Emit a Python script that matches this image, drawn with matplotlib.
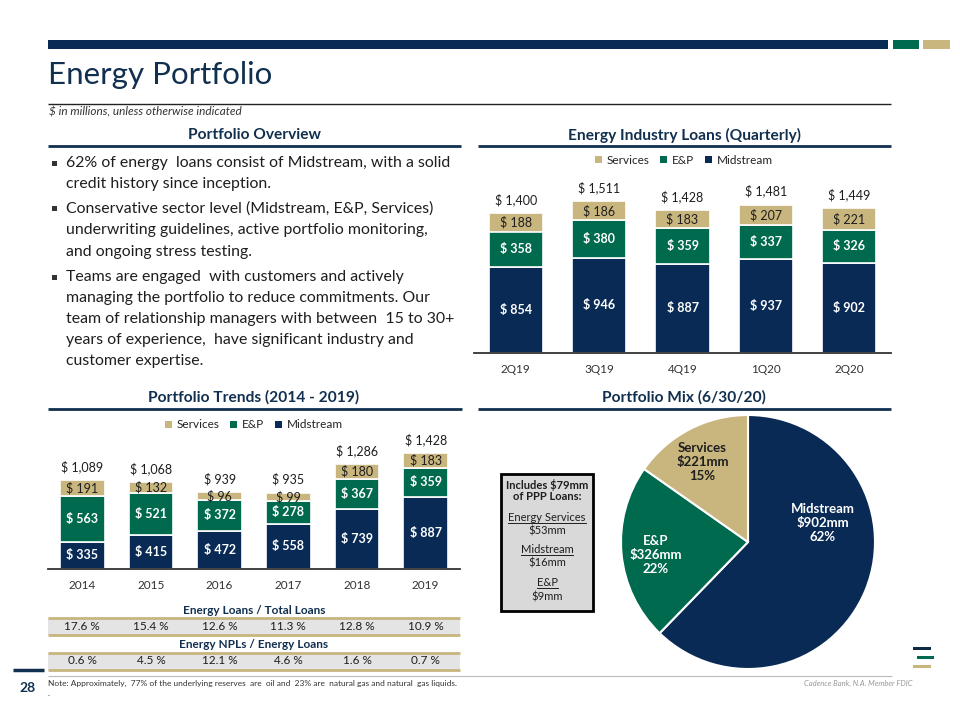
import matplotlib
matplotlib.use("Agg")
import matplotlib.pyplot as plt
from matplotlib.patches import Rectangle, Patch
from matplotlib.lines import Line2D
import numpy as np

plt.rcParams['font.family'] = ['Lato', 'DejaVu Sans']

# ---------------- data ----------------
quarters = ['2Q19', '3Q19', '4Q19', '1Q20', '2Q20']
q_midstream = [854, 946, 887, 937, 902]
q_ep = [358, 380, 359, 337, 326]
q_services = [188, 186, 183, 207, 221]
q_totals = [1400, 1511, 1428, 1481, 1449]

years = ['2014', '2015', '2016', '2017', '2018', '2019']
y_midstream = [335, 415, 472, 558, 739, 887]
y_ep = [563, 521, 372, 278, 367, 359]
y_services = [191, 132, 96, 99, 180, 183]
y_totals = [1089, 1068, 939, 935, 1286, 1428]

loans_to_total = [17.6, 15.4, 12.6, 11.3, 12.8, 10.9]
npl_to_energy = [0.6, 4.5, 12.1, 4.6, 1.6, 0.7]

mix_labels = ['Midstream', 'E&P', 'Services']
mix_values = [902, 326, 221]
mix_pct = [62, 22, 15]

bullets = [
    ["62% of energy  loans consist of Midstream, with a solid",
     "credit history since inception."],
    ["Conservative sector level (Midstream, E&P, Services)",
     "underwriting guidelines, active portfolio monitoring,",
     "and ongoing stress testing."],
    ["Teams are engaged  with customers and actively",
     "managing the portfolio to reduce commitments. Our",
     "team of relationship managers with between  15 to 30+",
     "years of experience,  have significant industry and",
     "customer expertise."],
]

# ---------------- styles ----------------
NAVY = '#082a55'
GREEN = '#006a4e'
GOLD = '#c9b57e'
DARK = '#1e1e1e'
HEAD = '#11304f'

W, H = 960, 720
fig = plt.figure(figsize=(9.6, 7.2), dpi=100)
fig.patch.set_facecolor('white')


def fx(x):
    return x / W


def fy(y):
    return 1 - y / H


def hline(x0, x1, y, color, lw):
    fig.add_artist(Line2D([fx(x0), fx(x1)], [fy(y), fy(y)],
                          transform=fig.transFigure, color=color, lw=lw,
                          solid_capstyle='butt'))


def rect(x0, y0, x1, y1, fc, ec='none', lw=0, z=0):
    fig.add_artist(Rectangle((fx(x0), fy(y1)), fx(x1) - fx(x0), fy(y0) - fy(y1),
                             transform=fig.transFigure, facecolor=fc,
                             edgecolor=ec, lw=lw, zorder=z))


def text(x, y, s, **kw):
    return fig.text(fx(x), fy(y), s, **kw)


# top decorative bars
rect(48, 40, 888, 49, NAVY)
rect(893, 40, 919, 49, GREEN)
rect(923, 40, 950, 49, GOLD)

# title
text(48, 75, 'Energy Portfolio', fontsize=22.5, color=HEAD,
     va='center', ha='left')
hline(48, 891, 104, '#222222', 1.0)
text(49, 112, '$ in millions, unless otherwise indicated', fontsize=8.5,
     style='italic', color='#333333', va='center', ha='left')

# section headers
for cx, cy, s in [(254, 135, 'Portfolio Overview'),
                  (684, 135, 'Energy Industry Loans (Quarterly)'),
                  (254, 397, 'Portfolio Trends (2014 - 2019)'),
                  (684, 397, 'Portfolio Mix (6/30/20)')]:
    text(cx, cy, s, fontsize=11.2, fontweight='bold', color=HEAD,
         ha='center', va='center')
hline(48, 461, 146, HEAD, 2)
hline(478, 891, 146, HEAD, 2)
hline(48, 462, 409, HEAD, 2)
hline(478, 891, 409, HEAD, 2)

# bullets
line_y = [[163, 184], [209, 230, 252], [277, 298, 319, 340, 361]]
for blines, ys in zip(bullets, line_y):
    rect(52, ys[0] - 2.5, 57, ys[0] + 2.5, '#333333')
    for s, yy in zip(blines, ys):
        text(66, yy, s, fontsize=11.4, color=DARK, ha='left', va='center')


def stacked(ax, cats, mid, ep, srv, totals, lab_size):
    x = np.arange(len(cats))
    ax.bar(x, mid, width=0.65, color=NAVY, edgecolor='white', lw=1.2)
    ax.bar(x, ep, width=0.65, bottom=mid, color=GREEN, edgecolor='white', lw=1.2)
    b2 = np.array(mid) + np.array(ep)
    ax.bar(x, srv, width=0.65, bottom=b2, color=GOLD, edgecolor='white', lw=1.2)
    for i in range(len(cats)):
        ax.text(x[i], mid[i] / 2, f'$ {mid[i]:,}', ha='center', va='center',
                color='white', fontweight='bold', fontsize=lab_size)
        ax.text(x[i], mid[i] + ep[i] / 2, f'$ {ep[i]:,}', ha='center', va='center',
                color='white', fontweight='bold', fontsize=lab_size)
        ax.text(x[i], b2[i] + srv[i] / 2, f'$ {srv[i]:,}', ha='center', va='center',
                color=DARK, fontsize=lab_size)
        ax.annotate(f'$ {totals[i]:,}', (x[i], b2[i] + srv[i]), xytext=(0, 5),
                    textcoords='offset points', ha='center', va='bottom',
                    color=DARK, fontsize=lab_size)
    ax.set_xlim(-0.5, len(cats) - 0.5)
    ax.set_ylim(0, 1700)
    for sp in ['top', 'left', 'right']:
        ax.spines[sp].set_visible(False)
    ax.spines['bottom'].set_color('#333333')
    ax.spines['bottom'].set_linewidth(1.3)
    ax.set_yticks([])
    ax.set_xticks(x)
    ax.set_xticklabels(cats, fontsize=8.5, color='#333333')
    ax.tick_params(axis='x', length=0, pad=8)
    ax.patch.set_alpha(0)


def legend_at(cx, cy):
    handles = [Patch(facecolor=GOLD, label='Services'),
               Patch(facecolor=GREEN, label='E&P'),
               Patch(facecolor=NAVY, label='Midstream')]
    fig.legend(handles=handles, loc='center', bbox_to_anchor=(fx(cx), fy(cy)),
               ncol=3, frameon=False, fontsize=8.5, handlelength=0.6,
               handleheight=0.6, handletextpad=0.4, columnspacing=0.9,
               labelcolor='#222222')


# quarterly chart
ax1 = fig.add_axes([fx(474), fy(352.7), (891 - 474) / W, 170 / H])
stacked(ax1, quarters, q_midstream, q_ep, q_services, q_totals, 9)
legend_at(684, 160)

# trends chart
ax2 = fig.add_axes([fx(48), fy(569), (460 - 48) / W, 138.4 / H])
stacked(ax2, years, y_midstream, y_ep, y_services, y_totals, 9)
legend_at(254, 425)

# ratio tables
col_w = (460 - 48) / 6
text(254, 610, 'Energy Loans / Total Loans', fontsize=8.5, fontweight='bold',
     color=HEAD, ha='center', va='center')
rect(48, 618, 460, 635, '#e4e4e4')
hline(48, 460, 618, GOLD, 2)
hline(48, 460, 635, GOLD, 2)
for i, v in enumerate(loans_to_total):
    text(48 + col_w * (i + 0.5), 627, f'{v:.1f} %', fontsize=8.5, color=DARK,
         ha='center', va='center')
text(254, 645, 'Energy NPLs / Energy Loans', fontsize=8.5, fontweight='bold',
     color=HEAD, ha='center', va='center')
rect(48, 653, 460, 670, '#e4e4e4')
hline(48, 460, 653, GOLD, 2)
hline(48, 460, 670, GOLD, 2)
for i, v in enumerate(npl_to_energy):
    text(48 + col_w * (i + 0.5), 661, f'{v:.1f} %', fontsize=8.5, color=DARK,
         ha='center', va='center')

# pie
r = 127
cxp, cyp = 748, 542
axp = fig.add_axes([fx(cxp - r), fy(cyp + r), 2 * r / W, 2 * r / H])
axp.pie(mix_values, colors=[NAVY, GREEN, GOLD], startangle=90, counterclock=False,
        wedgeprops=dict(edgecolor='white', linewidth=1.5), radius=1)
axp.set_xlim(-1, 1)
axp.set_ylim(-1, 1)
label_pos = [(0.59, 0.15), (-0.73, -0.10), (-0.36, 0.63)]
label_col = ['white', 'white', DARK]
for lab, val, pct, pos, c in zip(mix_labels, mix_values, mix_pct, label_pos, label_col):
    axp.text(pos[0], pos[1], f'{lab}\n${val}mm\n{pct}%', ha='center', va='center',
             color=c, fontweight='bold', fontsize=9.5, linespacing=1.2)

# PPP box
rect(501, 474, 593, 611, '#d9d9d9', ec='black', lw=2, z=2)
text(547, 485, 'Includes $79mm', fontsize=8, fontweight='bold', color=DARK,
     ha='center', va='center', zorder=3)
text(547, 497, 'of PPP Loans:', fontsize=8, fontweight='bold', color=DARK,
     ha='center', va='center', zorder=3)
ul = []
for s, yy in [('Energy Services', 521), ('Midstream', 553), ('E&P', 586)]:
    ul.append(text(547, yy, s, fontsize=8, color=DARK, ha='center',
                   va='baseline', zorder=3))
for s, yy in [('$53mm', 531), ('$16mm', 563), ('$9mm', 597)]:
    text(547, yy, s, fontsize=8, color=DARK, ha='center', va='center', zorder=3)

# footer
hline(13, 44, 670, HEAD, 2.5)
text(28, 688, '28', fontsize=10, fontweight='bold', color=HEAD, ha='center',
     va='center')
hline(48, 892, 676, '#bbbbbb', 0.8)
text(48, 683, 'Note: Approximately,  77% of the underlying reserves  are  oil and  23% are  '
     'natural gas and natural  gas liquids.', fontsize=6, color='#333333',
     ha='left', va='center')
text(48, 694, '.', fontsize=6, color='#333333', ha='left', va='center')
text(913, 683, 'Cadence Bank, N.A. Member FDIC', fontsize=5.5, style='italic',
     color='#999999', ha='right', va='center')
rect(913, 646.5, 931, 649.5, '#0e2a45')
rect(917, 655.5, 934, 658.5, GREEN)
rect(913, 664.5, 931, 667.5, GOLD)

# underlines in PPP box (just under the baseline)
fig.canvas.draw()
ren = fig.canvas.get_renderer()
inv = fig.transFigure.inverted()
for t, yy in zip(ul, [523, 555, 588]):
    bb = t.get_window_extent(ren)
    x0 = inv.transform((bb.x0, 0))[0]
    x1 = inv.transform((bb.x1, 0))[0]
    fig.add_artist(Line2D([x0, x1], [fy(yy), fy(yy)], transform=fig.transFigure,
                          color=DARK, lw=0.7, zorder=3))

fig.savefig('out.png', dpi=100)
